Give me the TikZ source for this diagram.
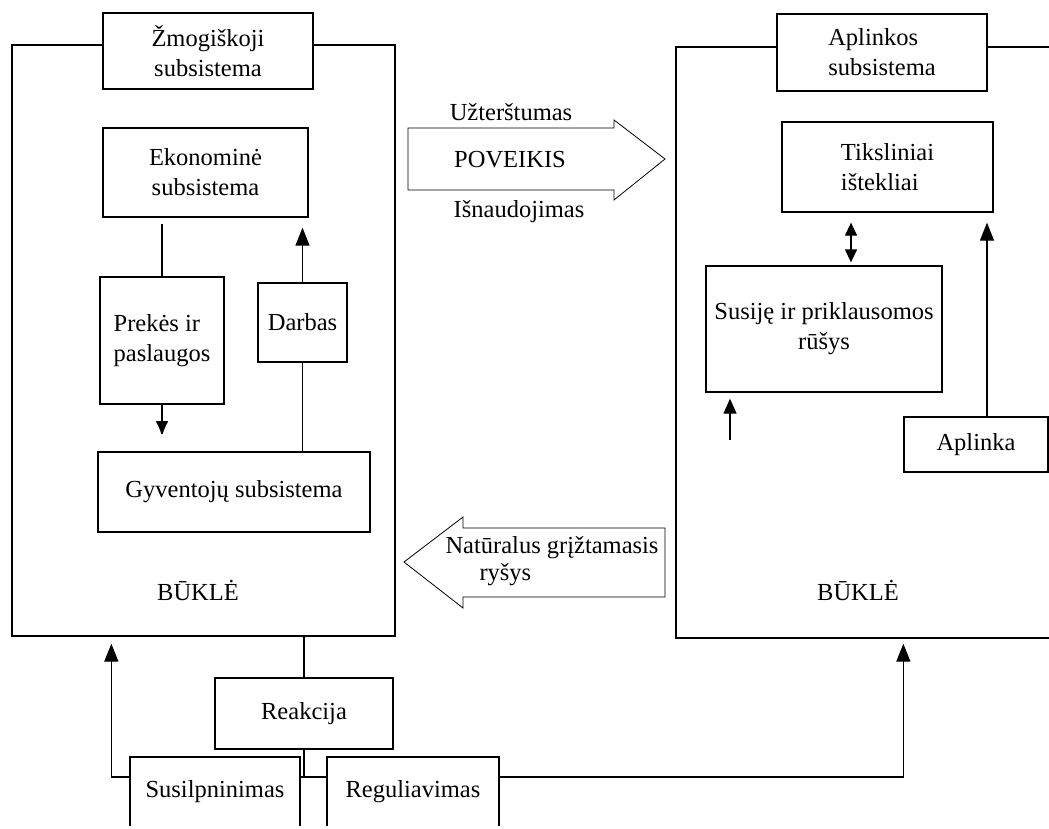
\documentclass[tikz,border=0pt]{standalone}
\usepackage{fontspec}
\setmainfont{Liberation Serif}
\usetikzlibrary{arrows.meta}

\newcommand{\diagfont}{\fontsize{24.5}{30}\selectfont}

\begin{document}
\begin{tikzpicture}[x=1pt, y=-1pt, line width=1.3pt, font=\diagfont,
  box/.style={draw, fill=white, inner sep=0pt, align=center},
  arr/.style={-{Triangle[length=18pt,width=14pt]}},
  smallarr/.style={-{Triangle[length=15pt,width=13pt]}}]

\useasboundingbox (0,0) rectangle (1049,828);
\clip (0,0) rectangle (1049,825);

%% the two frames
\node[draw, minimum width=383, minimum height=591] (zmogframe) at (203.5,340.5) {};
\node[draw, minimum width=424, minimum height=591] (aplframe) at (888,342.5) {};

\node[box, minimum width=210, minimum height=76] (zmog) at (208,51) {Žmogiškoji\\subsistema};
\node[box, align=left, minimum width=210, minimum height=77] (aplsub) at (882,52.5) {Aplinkos\\subsistema};

%% human side
\node[box, minimum width=205, minimum height=89] (ekon) at (205.5,172.5) {Ekonominė\\subsistema};
\node[box, align=left, minimum width=124, minimum height=127] (prekes) at (162,340.5) {Prekės ir\\paslaugos};
\node[box, minimum width=89, minimum height=79] (darbas) at (302.5,322.5) {Darbas};
\node[box, minimum width=272, minimum height=80] (gyv) at (234,492) {Gyventojų subsistema};
\path (198,590) node (buklekair){BŪKLĖ};

\draw[shorten >=6pt] (prekes.north) -- (prekes.north |- ekon.south);
\draw[-{Latex[round,length=15pt,width=13pt]}, shorten >=17pt] (prekes.south) -- (prekes.south |- gyv.north);
\draw (gyv.north -| darbas.south) -- (darbas.south);
\draw[arr, shorten >=10pt] (darbas.north) -- (darbas.north |- ekon.south);

%% environment side
\node[box, align=left, minimum width=211, minimum height=90] (tiksl) at (887.5,167) {Tiksliniai\\ištekliai};
\node[box, minimum width=236, minimum height=126] (susije) at (824,329) {Susiję ir priklausomos\\rūšys};
\node[box, minimum width=144, minimum height=55] (aplinka) at (976,444.5) {Aplinka};
\path (858,590) node (bukledes){BŪKLĖ};

\draw[{Triangle[length=13pt,width=12pt]}-{Triangle[length=13pt,width=12pt]}, shorten >=10pt, shorten <=3pt]
  ([xshift=27pt]susije.north) -- ([xshift=27pt]susije.north |- tiksl.south);
\coordinate (isapacios) at (730,440);
\draw[smallarr, shorten >=6pt] (isapacios) -- (isapacios |- susije.south);
\draw[arr, shorten >=10pt] ([xshift=11pt]aplinka.north) -- ([xshift=11pt]aplinka.north |- tiksl.south);

%% big arrows between the frames
\draw[line width=0.8pt] (408,128) -- (614,128) -- (614,120) -- (665,159) -- (614,200) -- (614,190) -- (408,190) -- cycle;
\path (511,112) node (uzt){Užterštumas};
\path (510,160) node (poveikis){POVEIKIS};
\path (519,212) node (isn){Išnaudojimas};

\draw[line width=0.8pt] (665,528) -- (463,528) -- (463,517) -- (404,562) -- (463,608) -- (463,597) -- (665,597) -- cycle;
\path (552,561) node[align=left, font=\fontsize{24.5}{27}\selectfont] (grizt){Natūralus grįžtamasis\\\hspace*{34pt}ryšys};

%% reaction below
\node[box, minimum width=178, minimum height=71] (reakc) at (304,713.5) {Reakcija};
\node[box, minimum width=170, minimum height=70] (susilp) at (215,792) {Susilpninimas};
\node[box, minimum width=172, minimum height=70] (regul) at (413,792) {Reguliavimas};

\draw (reakc.north) -- (reakc.north |- zmogframe.south);
\coordinate (skyla) at (304,777);
\draw (reakc.south) -- (skyla);
\draw (susilp.east |- skyla) -- (regul.west |- skyla);
\draw[arr, shorten >=7pt] (susilp.west |- skyla) -| ([xshift=100pt]zmogframe.south west);
\draw[arr, shorten >=5pt] (regul.east |- skyla) -| (aplinka.west |- aplframe.south);

\end{tikzpicture}
\end{document}
